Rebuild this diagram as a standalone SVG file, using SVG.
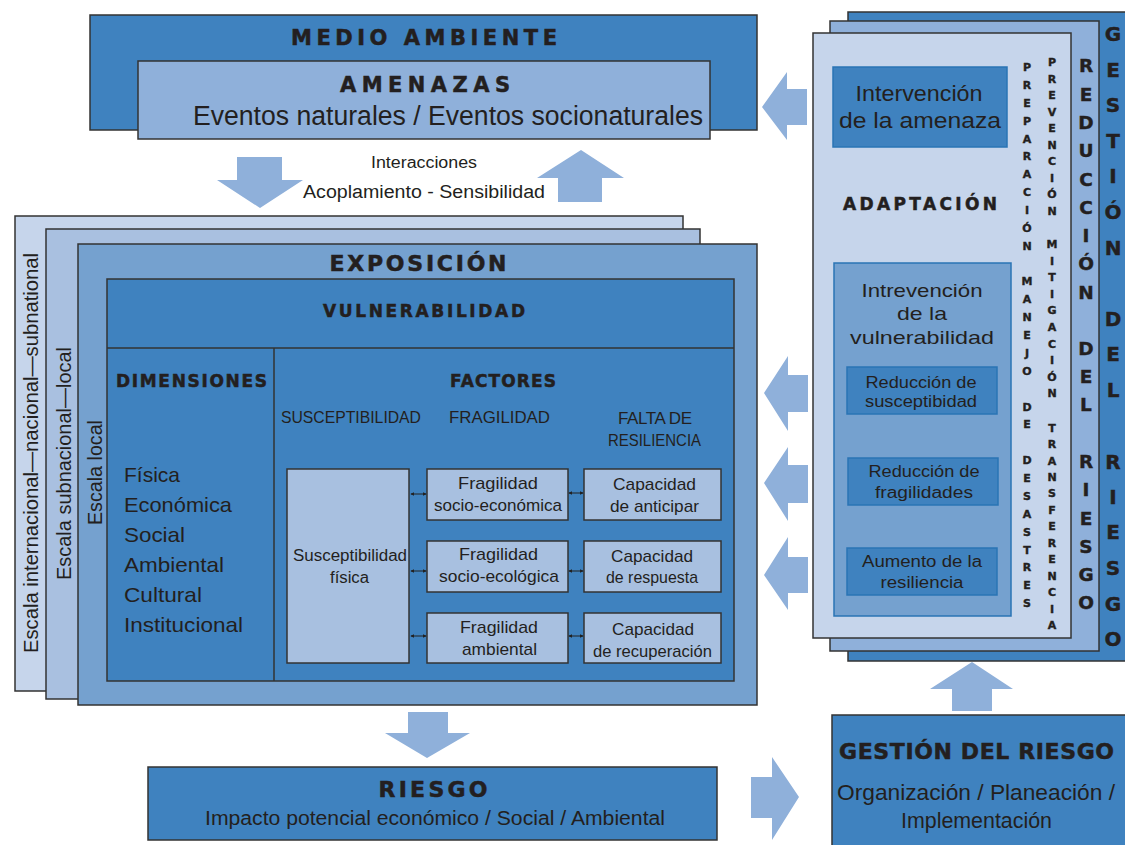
<svg xmlns="http://www.w3.org/2000/svg" width="1125" height="845" viewBox="0 0 1125 845">
<defs>
<style>
.bx{stroke:#333;stroke-width:1.5}
.bb{stroke:#2a74b5;stroke-width:1.5}
.d{fill:#3f82bf}
.m{fill:#75a1cf}
.l{fill:#a8c0e0}
.xl{fill:#c6d5eb}
.md{fill:#8fb0da}
.arr{fill:#8fb0da}
text{font-family:"Liberation Sans",Arial,sans-serif;fill:#231f20}
.h{font-family:"DejaVu Sans","Liberation Sans",sans-serif;font-weight:bold;stroke:#231f20;stroke-width:0.5}
.c{text-anchor:middle}
.vt{font-family:"DejaVu Sans","Liberation Sans",sans-serif;font-weight:bold;text-anchor:middle;stroke:#231f20;stroke-width:0.4}
.da{stroke:#222;stroke-width:1;fill:none;marker-start:url(#ah);marker-end:url(#ah)}
</style>
<marker id="ah" viewBox="0 0 6 6" refX="5" refY="3" markerWidth="4" markerHeight="4" orient="auto-start-reverse"><path d="M0,0 L6,3 L0,6 z" fill="#222"/></marker>
</defs>
<rect width="1125" height="845" fill="#ffffff"/>

<g id="medio-ambiente">
<rect class="bx d" x="90" y="15" width="667" height="115"/>
<text class="h c" x="424" y="45" font-size="21" textLength="266">MEDIO AMBIENTE</text>
</g>
<g id="amenazas">
<rect class="bx md" x="138" y="61" width="572" height="78"/>
<text class="h c" x="425" y="92" font-size="21" textLength="170">AMENAZAS</text>
<text x="193" y="125" font-size="27" textLength="510" lengthAdjust="spacingAndGlyphs">Eventos naturales / Eventos socionaturales</text>
</g>
<g id="interacciones">
<text x="371" y="168" font-size="16" textLength="106" lengthAdjust="spacingAndGlyphs">Interacciones</text>
<text x="303" y="198" font-size="18" textLength="242" lengthAdjust="spacingAndGlyphs">Acoplamiento - Sensibilidad</text>
</g>

<g id="escalas">
<rect class="bx xl" x="15" y="216" width="668" height="475"/>
<rect class="bx" fill="#a9c0e0" x="46" y="229" width="654" height="470"/>
<text transform="translate(38,653) rotate(-90)" font-size="21" textLength="400" lengthAdjust="spacingAndGlyphs">Escala internacional—nacional—subnational</text>
<text transform="translate(71,580) rotate(-90)" font-size="21" textLength="233" lengthAdjust="spacingAndGlyphs">Escala subnacional—local</text>
</g>
<g id="exposicion">
<rect class="bx m" x="78" y="244" width="679" height="461"/>
<text transform="translate(102,525) rotate(-90)" font-size="21" textLength="105" lengthAdjust="spacingAndGlyphs">Escala local</text>
<text class="h c" x="418" y="271" font-size="22" textLength="177">EXPOSICIÓN</text>
</g>
<g id="vulnerabilidad">
<rect class="bx d" x="107" y="279" width="627" height="402"/>
<line class="bx" x1="107" y1="348" x2="734" y2="348"/>
<line class="bx" x1="274" y1="348" x2="274" y2="681"/>
<text class="h c" x="424" y="317" font-size="17" textLength="202">VULNERABILIDAD</text>
</g>
<g id="dimensiones">
<text class="h" x="116" y="387" font-size="17" textLength="151">DIMENSIONES</text>
<text x="124" y="482" font-size="21" textLength="56" lengthAdjust="spacingAndGlyphs">Física</text>
<text x="124" y="512" font-size="21" textLength="108" lengthAdjust="spacingAndGlyphs">Económica</text>
<text x="124" y="542" font-size="21" textLength="61" lengthAdjust="spacingAndGlyphs">Social</text>
<text x="124" y="572" font-size="21" textLength="100" lengthAdjust="spacingAndGlyphs">Ambiental</text>
<text x="124" y="602" font-size="21" textLength="78" lengthAdjust="spacingAndGlyphs">Cultural</text>
<text x="124" y="632" font-size="21" textLength="119" lengthAdjust="spacingAndGlyphs">Institucional</text>
</g>
<g id="factores">
<text class="h" x="450" y="387" font-size="17" textLength="106">FACTORES</text>
<text x="281" y="423" font-size="17" textLength="140" lengthAdjust="spacingAndGlyphs">SUSCEPTIBILIDAD</text>
<text x="449" y="423" font-size="17" textLength="101" lengthAdjust="spacingAndGlyphs">FRAGILIDAD</text>
<text x="618" y="424" font-size="17" textLength="74" lengthAdjust="spacing">FALTA DE</text>
<text x="608" y="446" font-size="17" textLength="93" lengthAdjust="spacingAndGlyphs">RESILIENCIA</text>
</g>
<g id="susceptibilidad-fisica">
<rect class="bx l" x="287" y="469" width="122" height="194"/>
<text x="293" y="561" font-size="16" textLength="114" lengthAdjust="spacingAndGlyphs">Susceptibilidad</text>
<text x="330" y="583" font-size="16" textLength="39" lengthAdjust="spacingAndGlyphs">física</text>
</g>
<g id="fragilidad-socioeconomica">
<rect class="bx l" x="427" y="469" width="141" height="51"/>
<text x="458" y="489" font-size="17" textLength="80" lengthAdjust="spacingAndGlyphs">Fragilidad</text>
<text x="434" y="511" font-size="17" textLength="128" lengthAdjust="spacingAndGlyphs">socio-económica</text>
</g>
<g id="fragilidad-socioecologica">
<rect class="bx l" x="427" y="541" width="141" height="51"/>
<text x="459" y="560" font-size="17" textLength="79" lengthAdjust="spacingAndGlyphs">Fragilidad</text>
<text x="439" y="582" font-size="17" textLength="120" lengthAdjust="spacingAndGlyphs">socio-ecológica</text>
</g>
<g id="fragilidad-ambiental">
<rect class="bx l" x="427" y="613" width="141" height="50"/>
<text x="460" y="633" font-size="17" textLength="78" lengthAdjust="spacingAndGlyphs">Fragilidad</text>
<text x="462" y="655" font-size="17" textLength="75" lengthAdjust="spacingAndGlyphs">ambiental</text>
</g>
<g id="capacidad-anticipar">
<rect class="bx l" x="584" y="469" width="137" height="51"/>
<text x="613" y="490" font-size="17" textLength="83" lengthAdjust="spacingAndGlyphs">Capacidad</text>
<text x="610" y="512" font-size="17" textLength="89" lengthAdjust="spacingAndGlyphs">de anticipar</text>
</g>
<g id="capacidad-respuesta">
<rect class="bx l" x="584" y="541" width="137" height="51"/>
<text x="611" y="562" font-size="17" textLength="82" lengthAdjust="spacingAndGlyphs">Capacidad</text>
<text x="606" y="583" font-size="17" textLength="92" lengthAdjust="spacingAndGlyphs">de respuesta</text>
</g>
<g id="capacidad-recuperacion">
<rect class="bx l" x="584" y="613" width="137" height="50"/>
<text x="612" y="635" font-size="17" textLength="82" lengthAdjust="spacingAndGlyphs">Capacidad</text>
<text x="593" y="657" font-size="17" textLength="119" lengthAdjust="spacingAndGlyphs">de recuperación</text>
</g>

<g id="riesgo">
<rect class="bx d" x="148" y="767" width="569" height="73"/>
<text class="h c" x="433" y="797" font-size="22" textLength="109">RIESGO</text>
<text x="205" y="825" font-size="20" textLength="460" lengthAdjust="spacingAndGlyphs">Impacto potencial económico / Social / Ambiental</text>
</g>

<g id="gestion-del-riesgo-panel">
<rect class="bx d" x="848" y="12" width="290" height="649"/>
<rect class="bx md" x="830" y="21" width="269" height="630"/>
<rect class="bx xl" x="813" y="33" width="258" height="605"/>
<text class="vt" font-size="20"><tspan x="1113" y="41">G</tspan><tspan x="1113" y="77">E</tspan><tspan x="1113" y="112">S</tspan><tspan x="1113" y="148">T</tspan><tspan x="1113" y="183">I</tspan><tspan x="1113" y="219">Ó</tspan><tspan x="1113" y="255">N</tspan><tspan x="1113" y="326">D</tspan><tspan x="1113" y="361">E</tspan><tspan x="1113" y="397">L</tspan><tspan x="1113" y="469">R</tspan><tspan x="1113" y="504">I</tspan><tspan x="1113" y="539">E</tspan><tspan x="1113" y="575">S</tspan><tspan x="1113" y="611">G</tspan><tspan x="1113" y="646">O</tspan></text>
<text class="vt" font-size="18.5"><tspan x="1086" y="72">R</tspan><tspan x="1086" y="101">E</tspan><tspan x="1086" y="129">D</tspan><tspan x="1086" y="157">U</tspan><tspan x="1086" y="186">C</tspan><tspan x="1086" y="214">C</tspan><tspan x="1086" y="242">I</tspan><tspan x="1086" y="270">Ó</tspan><tspan x="1086" y="299">N</tspan><tspan x="1086" y="355">D</tspan><tspan x="1086" y="383">E</tspan><tspan x="1086" y="411">L</tspan><tspan x="1086" y="468">R</tspan><tspan x="1086" y="496">I</tspan><tspan x="1086" y="525">E</tspan><tspan x="1086" y="553">S</tspan><tspan x="1086" y="581">G</tspan><tspan x="1086" y="609">O</tspan></text>
<text class="vt" font-size="11"><tspan x="1052" y="66">P</tspan><tspan x="1052" y="83">R</tspan><tspan x="1052" y="99">E</tspan><tspan x="1052" y="116">V</tspan><tspan x="1052" y="132">E</tspan><tspan x="1052" y="149">N</tspan><tspan x="1052" y="165">C</tspan><tspan x="1052" y="182">I</tspan><tspan x="1052" y="198">Ó</tspan><tspan x="1052" y="215">N</tspan><tspan x="1052" y="248">M</tspan><tspan x="1052" y="265">I</tspan><tspan x="1052" y="281">T</tspan><tspan x="1052" y="298">I</tspan><tspan x="1052" y="314">G</tspan><tspan x="1052" y="331">A</tspan><tspan x="1052" y="348">C</tspan><tspan x="1052" y="364">I</tspan><tspan x="1052" y="381">Ó</tspan><tspan x="1052" y="397">N</tspan><tspan x="1052" y="432">T</tspan><tspan x="1052" y="448">R</tspan><tspan x="1052" y="465">A</tspan><tspan x="1052" y="481">N</tspan><tspan x="1052" y="497">S</tspan><tspan x="1052" y="514">F</tspan><tspan x="1052" y="530">E</tspan><tspan x="1052" y="547">R</tspan><tspan x="1052" y="563">E</tspan><tspan x="1052" y="580">N</tspan><tspan x="1052" y="596">C</tspan><tspan x="1052" y="613">I</tspan><tspan x="1052" y="629">A</tspan></text>
<text class="vt" font-size="11"><tspan x="1027" y="71">P</tspan><tspan x="1027" y="89">R</tspan><tspan x="1027" y="107">E</tspan><tspan x="1027" y="125">P</tspan><tspan x="1027" y="143">A</tspan><tspan x="1027" y="160">R</tspan><tspan x="1027" y="178">A</tspan><tspan x="1027" y="196">C</tspan><tspan x="1027" y="214">I</tspan><tspan x="1027" y="232">Ó</tspan><tspan x="1027" y="250">N</tspan><tspan x="1027" y="285">M</tspan><tspan x="1027" y="303">A</tspan><tspan x="1027" y="321">N</tspan><tspan x="1027" y="339">E</tspan><tspan x="1027" y="357">J</tspan><tspan x="1027" y="375">O</tspan><tspan x="1027" y="411">D</tspan><tspan x="1027" y="428">E</tspan><tspan x="1027" y="464">D</tspan><tspan x="1027" y="482">E</tspan><tspan x="1027" y="500">S</tspan><tspan x="1027" y="518">A</tspan><tspan x="1027" y="536">S</tspan><tspan x="1027" y="554">T</tspan><tspan x="1027" y="571">R</tspan><tspan x="1027" y="589">E</tspan><tspan x="1027" y="607">S</tspan></text>
<text class="h c" x="920" y="210" font-size="17" textLength="154">ADAPTACIÓN</text>
</g>
<g id="intervencion-amenaza">
<rect class="bb d" x="833" y="67" width="174" height="80"/>
<text class="c" x="919" y="101" font-size="22" textLength="127" lengthAdjust="spacingAndGlyphs">Intervención</text>
<text class="c" x="920" y="128" font-size="22" textLength="162" lengthAdjust="spacingAndGlyphs">de la amenaza</text>
</g>
<g id="intervencion-vulnerabilidad">
<rect class="bb m" x="834" y="263" width="177" height="353"/>
<text class="c" x="922" y="297" font-size="19" textLength="121" lengthAdjust="spacingAndGlyphs">Intrevención</text>
<text class="c" x="922" y="320" font-size="19" textLength="50" lengthAdjust="spacingAndGlyphs">de la</text>
<text class="c" x="922" y="344" font-size="19" textLength="144" lengthAdjust="spacingAndGlyphs">vulnerabilidad</text>
</g>
<g id="reduccion-susceptibilidad">
<rect class="bb d" x="847" y="367" width="150" height="47"/>
<text class="c" x="921" y="388" font-size="16" textLength="111" lengthAdjust="spacingAndGlyphs">Reducción de</text>
<text class="c" x="921" y="407" font-size="16" textLength="112" lengthAdjust="spacingAndGlyphs">susceptibidad</text>
</g>
<g id="reduccion-fragilidades">
<rect class="bb d" x="848" y="458" width="150" height="47"/>
<text class="c" x="924" y="477" font-size="16" textLength="111" lengthAdjust="spacingAndGlyphs">Reducción de</text>
<text class="c" x="924" y="498" font-size="16" textLength="98" lengthAdjust="spacingAndGlyphs">fragilidades</text>
</g>
<g id="aumento-resiliencia">
<rect class="bb d" x="847" y="548" width="150" height="47"/>
<text class="c" x="922" y="567" font-size="16" textLength="120" lengthAdjust="spacingAndGlyphs">Aumento de la</text>
<text class="c" x="922" y="588" font-size="16" textLength="83" lengthAdjust="spacingAndGlyphs">resiliencia</text>
</g>

<g id="gestion-del-riesgo">
<rect class="bx d" x="832" y="715" width="300" height="140"/>
<text class="h" x="839" y="759" font-size="22" textLength="275">GESTIÓN DEL RIESGO</text>
<text x="837" y="800" font-size="22" textLength="278" lengthAdjust="spacingAndGlyphs">Organización / Planeación /</text>
<text x="901" y="828" font-size="22" textLength="151" lengthAdjust="spacingAndGlyphs">Implementación</text>
</g>

<g id="connectors">
<polygon class="arr" points="237,157 282,157 282,180 303,180 260,208 217,180 237,180"/>
<polygon class="arr" points="581,150 624,178 602,178 602,202 558,202 558,178 537,178"/>
<polygon class="arr" points="762,107 787,72 787,89 807,89 807,125 787,125 787,140"/>
<polygon class="arr" points="764,393 788,356 788,375 808,375 808,412 788,412 788,431"/>
<polygon class="arr" points="764,483 788,447 788,465 808,465 808,503 788,503 788,521"/>
<polygon class="arr" points="764,575 788,537 788,557 808,557 808,593 788,593 788,610"/>
<polygon class="arr" points="408,712 448,712 448,733 470,733 427,758 385,733 408,733"/>
<polygon class="arr" points="751,777 772,777 772,757 799,797 772,840 772,818 751,818"/>
<polygon class="arr" points="972,662 1013,689 992,689 992,711 952,711 952,689 930,689"/>
<line class="da" x1="411" y1="494" x2="426" y2="494"/>
<line class="da" x1="411" y1="571" x2="426" y2="571"/>
<line class="da" x1="411" y1="636" x2="426" y2="636"/>
<line class="da" x1="569" y1="493" x2="583" y2="493"/>
<line class="da" x1="569" y1="571" x2="583" y2="571"/>
<line class="da" x1="569" y1="636" x2="583" y2="636"/>
</g>
</svg>
